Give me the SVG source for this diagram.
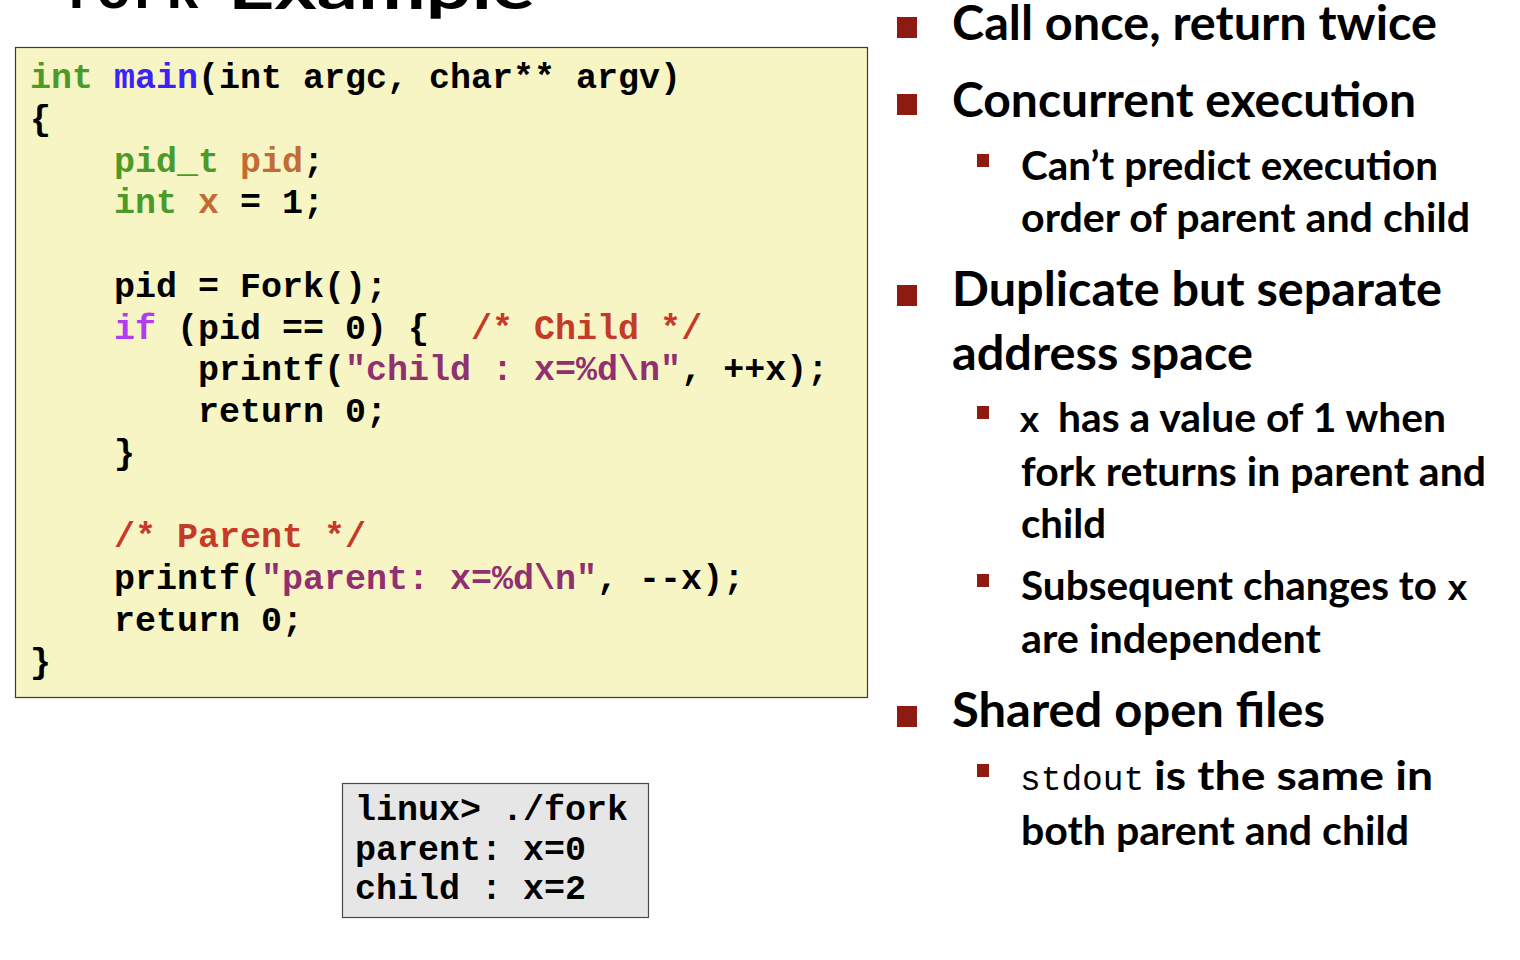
<svg xmlns="http://www.w3.org/2000/svg" width="1520" height="960" viewBox="0 0 1520 960">
<style>
.mono{font-family:"Liberation Mono","Courier New",monospace;font-weight:bold;font-size:35px;fill:#000;white-space:pre}
.sans{font-family:Lato,"Open Sans",sans-serif;font-weight:bold;fill:#000}
.l1{font-size:47px}
.l2{font-size:40px}
.ty{fill:#4C9A2A}
.fn{fill:#3B22F5}
.var{fill:#C36B35}
.kw{fill:#B23BF0}
.cm{fill:#C63A2A}
.str{fill:#913070}
.sq{fill:#8D1B12}
</style>
<rect width="1520" height="960" fill="#ffffff"/>
<g id="title">
<text x="62" y="8" class="mono" style="font-size:58px" textLength="138" lengthAdjust="spacingAndGlyphs">fork</text>
<text x="228" y="9" class="sans" style="font-size:62px" textLength="307" lengthAdjust="spacingAndGlyphs">Example</text>
</g>
<g id="code-box">
<rect x="15.5" y="47.5" width="852" height="650" fill="#F8F5C4" stroke="#3a3a3a" stroke-width="1.2"/>
<text xml:space="preserve" class="mono" x="30" y="88"><tspan class="ty">int</tspan> <tspan class="fn">main</tspan>(int argc, char** argv)</text>
<text xml:space="preserve" class="mono" x="30" y="129.75">{</text>
<text xml:space="preserve" class="mono" x="30" y="171.5">    <tspan class="ty">pid_t</tspan> <tspan class="var">pid</tspan>;</text>
<text xml:space="preserve" class="mono" x="30" y="213.25">    <tspan class="ty">int</tspan> <tspan class="var">x</tspan> = 1;</text>
<text xml:space="preserve" class="mono" x="30" y="296.75">    pid = Fork();</text>
<text xml:space="preserve" class="mono" x="30" y="338.5">    <tspan class="kw">if</tspan> (pid == 0) {  <tspan class="cm">/* Child */</tspan></text>
<text xml:space="preserve" class="mono" x="30" y="380.25">        printf(<tspan class="str">"child : x=%d\n"</tspan>, ++x);</text>
<text xml:space="preserve" class="mono" x="30" y="422">        return 0;</text>
<text xml:space="preserve" class="mono" x="30" y="463.75">    }</text>
<text xml:space="preserve" class="mono" x="30" y="547.25">    <tspan class="cm">/* Parent */</tspan></text>
<text xml:space="preserve" class="mono" x="30" y="589">    printf(<tspan class="str">"parent: x=%d\n"</tspan>, --x);</text>
<text xml:space="preserve" class="mono" x="30" y="630.75">    return 0;</text>
<text xml:space="preserve" class="mono" x="30" y="672.5">}</text>
</g>
<g id="output-box">
<rect x="342.5" y="783.5" width="306" height="134" fill="#E6E6E6" stroke="#4a4a4a" stroke-width="1.2"/>
<text xml:space="preserve" class="mono" x="355" y="820">linux&gt; ./fork</text>
<text xml:space="preserve" class="mono" x="355" y="860">parent: x=0</text>
<text xml:space="preserve" class="mono" x="355" y="899">child : x=2</text>
</g>
<g id="bullet-call-once">
<rect class="sq" x="897" y="17" width="20" height="21"/>
<text class="sans l1" x="952" y="40" textLength="485" lengthAdjust="spacingAndGlyphs">Call once, return twice</text>
</g>
<g id="bullet-concurrent">
<rect class="sq" x="897" y="94" width="20" height="21"/>
<text class="sans l1" x="952" y="117" textLength="464" lengthAdjust="spacingAndGlyphs">Concurrent execution</text>
<rect class="sq" x="977" y="154" width="12" height="13"/>
<text class="sans l2" x="1021" y="180" textLength="417" lengthAdjust="spacingAndGlyphs">Can’t predict execution</text>
<text class="sans l2" x="1021" y="232" textLength="449" lengthAdjust="spacingAndGlyphs">order of parent and child</text>
</g>
<g id="bullet-duplicate">
<rect class="sq" x="897" y="285" width="20" height="21"/>
<text class="sans l1" x="952" y="306" textLength="490" lengthAdjust="spacingAndGlyphs">Duplicate but separate</text>
<text class="sans l1" x="952" y="370" textLength="301" lengthAdjust="spacingAndGlyphs">address space</text>
<rect class="sq" x="977" y="406" width="12" height="13"/>
<text class="mono" x="1019" y="432">x</text>
<text class="sans l2" x="1058" y="432" textLength="388" lengthAdjust="spacingAndGlyphs">has a value of 1 when</text>
<text class="sans l2" x="1021" y="486" textLength="465" lengthAdjust="spacingAndGlyphs">fork returns in parent and</text>
<text class="sans l2" x="1021" y="538" textLength="85" lengthAdjust="spacingAndGlyphs">child</text>
<rect class="sq" x="977" y="574" width="12" height="13"/>
<text class="sans l2" x="1021" y="600" textLength="416" lengthAdjust="spacingAndGlyphs">Subsequent changes to</text>
<text class="mono" x="1447" y="600">x</text>
<text class="sans l2" x="1021" y="653" textLength="300" lengthAdjust="spacingAndGlyphs">are independent</text>
</g>
<g id="bullet-shared">
<rect class="sq" x="897" y="706" width="20" height="21"/>
<text class="sans l1" x="952" y="727" textLength="373" lengthAdjust="spacingAndGlyphs">Shared open files</text>
<rect class="sq" x="977" y="764" width="12" height="13"/>
<text x="1020" y="790" style="font-family:'Liberation Mono','Courier New',monospace;font-size:34.5px;fill:#000">stdout</text>
<text class="sans l2" x="1154" y="790" textLength="279" lengthAdjust="spacingAndGlyphs">is the same in</text>
<text class="sans l2" x="1021" y="845" textLength="388" lengthAdjust="spacingAndGlyphs">both parent and child</text>
</g>
</svg>
